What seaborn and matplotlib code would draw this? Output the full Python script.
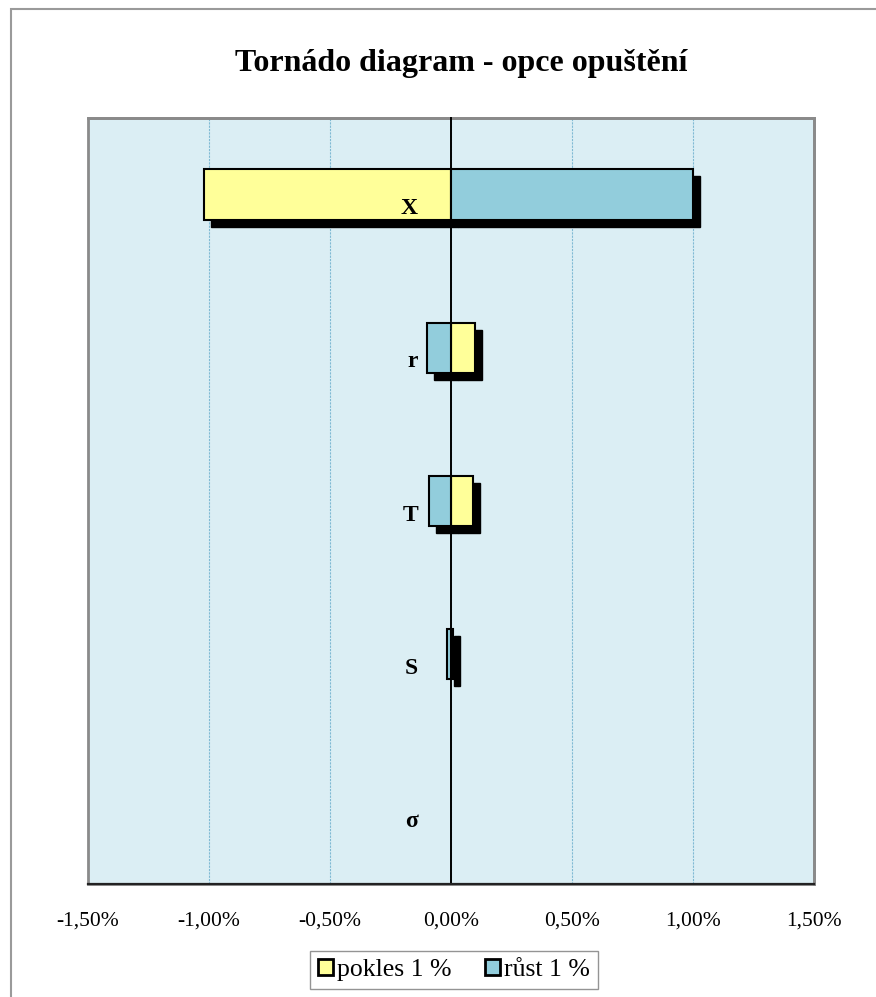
import matplotlib
matplotlib.use("Agg")
import matplotlib.pyplot as plt
import matplotlib.transforms as mtransforms
from matplotlib.patches import Rectangle, Patch
from matplotlib.ticker import FixedLocator, FuncFormatter
import seaborn as sns

# Sensitivity of the abandonment option value (in %) to a 1 % change of each input
categories = ["X", "r", "T", "S", "σ"]
pokles = [-1.02, 0.10, 0.09, 0.01, 0.0]     # input decreased by 1 %
rust = [1.00, -0.10, -0.09, -0.018, 0.0]    # input increased by 1 %
series_labels = ["pokles 1 %", "růst 1 %"]
x_ticks = [-1.5, -1.0, -0.5, 0.0, 0.5, 1.0, 1.5]
title = "Tornádo diagram - opce opuštění"

YELLOW = "#FFFF99"
BLUE = "#92CDDC"
PLOT_BG = "#DBEEF4"
SERIF = ["Liberation Serif", "DejaVu Serif"]

sns.set_theme(style="white")
plt.rcParams["font.family"] = SERIF
plt.rcParams["text.color"] = "black"
plt.rcParams["xtick.color"] = "black"
plt.rcParams["ytick.color"] = "black"

W, H = 876, 997
fig = plt.figure(figsize=(W / 100, H / 100), dpi=100)
fig.patch.set_facecolor("white")

# outer chart frame
fig.patches.append(Rectangle((11 / W, -0.05), 1.1, 1 - 9 / H + 0.05,
                             transform=fig.transFigure, fill=False,
                             edgecolor="#9a9a9a", lw=1.5))

ax = fig.add_axes([88 / W, 1 - 884 / H, (814 - 88) / W, (884 - 118) / H])
ax.set_facecolor(PLOT_BG)

bar_w = 0.33
# drop shadows first, shifted right/down
shadow_off = mtransforms.ScaledTranslation(7 / 100, -7 / 100, fig.dpi_scale_trans)
for vals in (pokles, rust):
    n0 = len(ax.patches)
    sns.barplot(x=vals, y=categories, orient="h", color="black", width=bar_w,
                errorbar=None, edgecolor="black", linewidth=1.0, saturation=1, ax=ax)
    for p in ax.patches[n0:]:
        p.set_transform(ax.transData + shadow_off)
        p.set_zorder(1)
        if p.get_width() == 0:
            p.set_visible(False)

for vals, col, lab in zip((pokles, rust), (YELLOW, BLUE), series_labels):
    n0 = len(ax.patches)
    sns.barplot(x=vals, y=categories, orient="h", color=col, width=bar_w,
                errorbar=None, edgecolor="black", linewidth=1.5, saturation=1, ax=ax)
    for p in ax.patches[n0:]:
        p.set_zorder(1.5)
        if p.get_width() == 0:
            p.set_visible(False)

ax.set_xlim(-1.5, 1.5)
ax.set_ylim(len(categories) - 0.5, -0.5)
ax.set_xlabel("")
ax.set_ylabel("")

# x axis
ax.xaxis.set_major_locator(FixedLocator(x_ticks))
ax.xaxis.set_major_formatter(FuncFormatter(
    lambda v, _: f"{v:.2f}%".replace(".", ",").replace("-0,00", "0,00")))
ax.tick_params(axis="x", direction="out", length=5, width=1, color="#333333",
               labelsize=15.5, pad=15, labelcolor="black")
ax.xaxis.grid(True, color="#80BAD4", linestyle=(0, (2, 1)), lw=0.8)
ax.yaxis.grid(False)
ax.set_axisbelow(True)

# y axis through zero with ticks between categories
ax.spines["left"].set_position(("data", 0))
ax.spines["left"].set_color("black")
ax.spines["left"].set_linewidth(1.4)
ax.spines["left"].set_zorder(3)
ax.set_yticks(range(len(categories)))
ax.set_yticklabels([])
ax.set_yticks([i + 0.5 for i in range(len(categories) - 1)], minor=True)
ax.tick_params(axis="y", which="major", length=0)
ax.tick_params(axis="y", which="minor", direction="out", length=4.5,
               width=1.2, color="#555555")

for s in ("top", "right"):
    ax.spines[s].set_color("#8a8a8a")
    ax.spines[s].set_linewidth(2)
ax.add_patch(Rectangle((0, 0), 1, 1, transform=ax.transAxes, fill=False,
                       edgecolor="#8a8a8a", lw=2, clip_on=False, zorder=2.6))
ax.spines["bottom"].set_color("#222222")
ax.spines["bottom"].set_linewidth(1.6)
ax.spines["bottom"].set_zorder(3)

# category labels beside the zero axis
lab_tr = mtransforms.offset_copy(ax.transData, fig=fig, x=-33, y=-14, units="dots")
for i, c in enumerate(categories):
    ax.text(0, i, c, transform=lab_tr, ha="right", va="center", color="black",
            fontsize=17, fontweight="bold", family=SERIF)

fig.text(461 / W, 1 - 63 / H, title, ha="center", va="center", color="black",
         fontsize=23, fontweight="bold", family=SERIF)

handles = [Patch(facecolor=YELLOW, edgecolor="black", lw=2),
           Patch(facecolor=BLUE, edgecolor="black", lw=2)]
leg = fig.legend(handles, series_labels, loc="center",
                 bbox_to_anchor=(454 / W, 1 - 970 / H), ncol=2,
                 prop={"family": SERIF, "size": 18.5}, frameon=True,
                 fancybox=False, edgecolor="#7a7a7a", handlelength=0.6,
                 handleheight=0.6, handletextpad=0.15, columnspacing=1.3,
                 borderpad=0.3, borderaxespad=0)
leg.get_frame().set_linewidth(1)
for t in leg.get_texts():
    t.set_color("black")

fig.savefig("out.png", dpi=100)
